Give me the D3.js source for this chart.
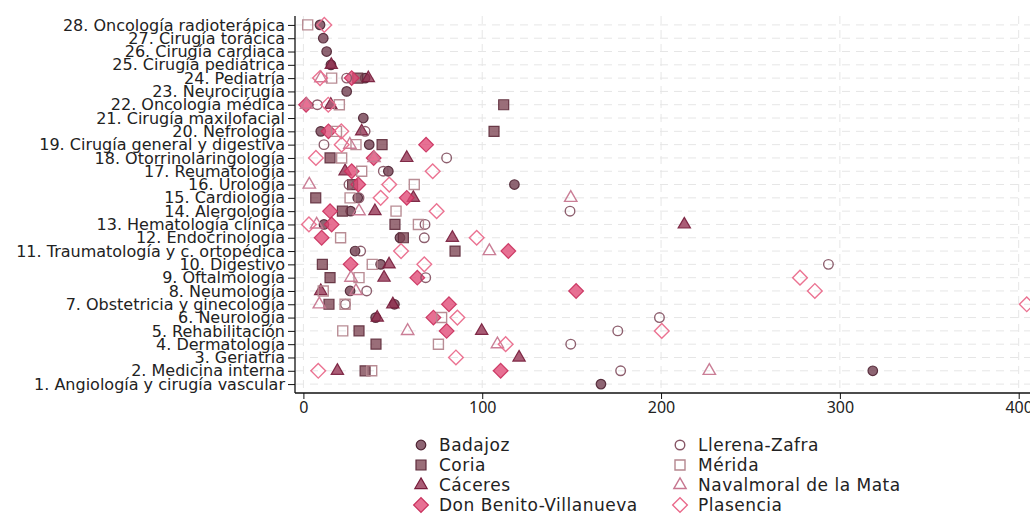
<!DOCTYPE html>
<html>
<head>
<meta charset="utf-8">
<script src="https://cdn.jsdelivr.net/npm/d3@7"></script>
<style>
  html, body { margin: 0; padding: 0; background: #fff; }
  svg { display: block; font-family: "DejaVu Sans", sans-serif; }
</style>
</head>
<body>
<div id="chart"></div>
<script>
// Specialties, numbered 1..28 from bottom to top
const categories = [
  "1. Angiología y cirugía vascular",
  "2. Medicina interna",
  "3. Geriatría",
  "4. Dermatología",
  "5. Rehabilitación",
  "6. Neurología",
  "7. Obstetricia y ginecología",
  "8. Neumología",
  "9. Oftalmología",
  "10. Digestivo",
  "11. Traumatología y c. ortopédica",
  "12. Endocrinología",
  "13. Hematología clínica",
  "14. Alergología",
  "15. Cardiología",
  "16. Urología",
  "17. Reumatología",
  "18. Otorrinolaringología",
  "19. Cirugía general y digestiva",
  "20. Nefrología",
  "21. Cirugía maxilofacial",
  "22. Oncología médica",
  "23. Neurocirugía",
  "24. Pediatría",
  "25. Cirugía pediátrica",
  "26. Cirugía cardiaca",
  "27. Cirugía torácica",
  "28. Oncología radioterápica"
];

// One value per specialty (same order as categories); null = no data
const badajoz = [166.4, 318.4, null, null, null, 40.4, 50.9, 26.1, null, 43.2, 28.9, 54, 11.5, 26.4,
  30.4, 118, 47.5, null, 36.8, 9.7, 33.5, null, 24.2, 34.5, 15.4, 13.0, 11.1, 9.3];
const coria = [null, 34.5, null, 40.6, 31.1, null, 14.3, null, 14.9, 10.6, 84.8, 55.9, 51.2, 21.8,
  6.9, 27.5, null, 14.9, 44, 106.6, null, 112, null, 30.4, null, null, null, null];
const caceres = [null, 19, 120.6, null, 99.7, 41.3, 50, 9.7, 45.1, 47.9, null, 83.3, 213, 40,
  61.5, null, 23.3, 57.8, null, 32.6, null, 15.3, null, 36.3, 15.6, null, null, null];
const donBenito = [null, 110.3, null, null, 80.1, 72.7, 81.4, 152.5, 63.7, 26.4, 114.6, 10.2, 15.8, 14.9,
  57.8, 30.7, 27, 39.3, 68.6, 14, null, 1.5, null, 27, null, null, null, null];
const llerena = [null, 177.4, null, 149.5, 175.8, 199.1, 23.5, 35.4, 68.4, 293.6, 32, 67.6, 68, 149.1,
  31.1, 25.5, 44.7, 80.1, 11.5, 34.5, null, 7.8, null, 24.2, null, null, null, null];
const merida = [null, 38.2, null, 75.5, 22, 77.3, 23.3, 11.1, 31.1, 38.5, null, 20.8, 64.3, 51.8,
  26.1, 62, 32.6, 21.4, 29.4, 18.5, null, 20.1, null, 15.8, null, null, null, 2.4];
const navalmoral = [null, 227, null, 108.5, 58.3, null, 8.9, 29.4, 26.6, null, 104, null, 7.4, 31.1,
  149.5, 3.3, null, 39.5, 26, null, null, 1.8, null, 9.8, null, null, null, null];
const plasencia = [null, 8.3, 85.3, 113.1, 200.4, 86.1, 404.5, 286, 277.7, 67.6, 54.6, 96.9, 3.1, 74.5,
  43.2, 48, 72.3, 7, 21.4, 21.2, null, 13.9, null, 9.3, null, null, null, 11.7];

const xTicks = [0, 100, 200, 300, 400];

// Series definitions: name, values, marker shape, fill / stroke
const series = [
  { name: "Badajoz", values: badajoz, shape: "circle", filled: true, fill: "#6e3a4c", stroke: "#4e2232" },
  { name: "Coria", values: coria, shape: "square", filled: true, fill: "#7d4553", stroke: "#5f2c3c" },
  { name: "Cáceres", values: caceres, shape: "triangle", filled: true, fill: "#92304f", stroke: "#771c3b" },
  { name: "Don Benito-Villanueva", values: donBenito, shape: "diamond", filled: true, fill: "#e04874", stroke: "#c92f5c" },
  { name: "Llerena-Zafra", values: llerena, shape: "circle", filled: false, stroke: "#875666" },
  { name: "Mérida", values: merida, shape: "square", filled: false, stroke: "#b5878f" },
  { name: "Navalmoral de la Mata", values: navalmoral, shape: "triangle", filled: false, stroke: "#c77790" },
  { name: "Plasencia", values: plasencia, shape: "diamond", filled: false, stroke: "#ea6b8c" }
];

const W = 1030, H = 514;
const plot = { left: 295, right: 1030, top: 16, bottom: 393 };
const labelFont = "'DejaVu Sans', sans-serif";

const x = d3.scaleLinear().domain([0, 400]).range([303.4, 1018.7]);
const y = d3.scaleLinear().domain([0.33, 28.67]).range([plot.bottom, plot.top]);

const svg = d3.select("#chart").append("svg")
  .attr("width", W).attr("height", H);

// Marker path generator
const shapeGen = {
  circle: d3.symbol().type(d3.symbolCircle).size(72),
  square: d3.symbol().type(d3.symbolSquare).size(100),
  triangle: d3.symbol().type(d3.symbolTriangle).size(66),
  diamond: d3.symbol().type(d3.symbolSquare).size(108)
};
const shapeRot = { circle: 0, square: 0, triangle: 0, diamond: 45 };

// Grid
const grid = svg.append("g").attr("class", "grid");
grid.selectAll("line.h").data(d3.range(1, 29)).join("line")
  .attr("x1", plot.left + 1).attr("x2", plot.right)
  .attr("y1", d => y(d)).attr("y2", d => y(d))
  .attr("stroke", "#e6e6e6").attr("stroke-width", 1)
  .attr("stroke-dasharray", "8,6");
grid.selectAll("line.v").data(xTicks).join("line")
  .attr("x1", d => x(d)).attr("x2", d => x(d))
  .attr("y1", plot.top).attr("y2", plot.bottom)
  .attr("stroke", "#e6e6e6").attr("stroke-width", 1)
  .attr("stroke-dasharray", "8,6");

// Axes
const xAxis = svg.append("g")
  .attr("transform", `translate(0,${plot.bottom})`)
  .call(d3.axisBottom(x).tickValues(xTicks).tickSize(6).tickPadding(3).tickFormat(d3.format("d")));
xAxis.attr("font-family", null);
xAxis.select(".domain").attr("d", `M${plot.left},0H${plot.right}`).attr("stroke", "#111").attr("stroke-width", 1.3);
xAxis.selectAll(".tick line").attr("stroke", "#111");
xAxis.selectAll(".tick text").attr("font-size", 16).attr("fill", "#222")
  .attr("font-family", "'Noto Sans', sans-serif");

const yAxis = svg.append("g")
  .attr("transform", `translate(${plot.left},0)`)
  .call(d3.axisLeft(y).tickValues(d3.range(1, 29)).tickSize(7).tickPadding(3)
    .tickFormat(d => categories[d - 1]));
yAxis.attr("font-family", null);
yAxis.select(".domain").attr("d", `M0,${plot.top}V${plot.bottom}`).attr("stroke", "#111").attr("stroke-width", 1.3);
yAxis.selectAll(".tick line").attr("stroke", "#111");
yAxis.selectAll(".tick text")
  .attr("font-family", labelFont)
  .attr("font-size", 16)
  .attr("fill", "#222");

// Markers
const marks = svg.append("g");
series.forEach(s => {
  const pts = s.values.map((v, i) => ({ v, cat: i + 1 })).filter(d => d.v != null);
  marks.append("g").selectAll("path").data(pts).join("path")
    .attr("d", shapeGen[s.shape])
    .attr("transform", d => `translate(${x(d.v)},${y(d.cat)}) rotate(${shapeRot[s.shape]})`)
    .attr("fill", s.filled ? s.fill : "none")
    .attr("fill-opacity", s.filled ? 0.78 : 0)
    .attr("stroke", s.stroke)
    .attr("stroke-width", s.filled ? 1.2 : 1.4)
    .attr("stroke-opacity", s.filled ? 0.9 : 0.95);
});

// Legend: two columns of four
const legend = svg.append("g");
series.forEach((s, i) => {
  const col = Math.floor(i / 4), row = i % 4;
  const gx = col === 0 ? 421 : 680;
  const gy = 445 + row * 20;
  legend.append("path")
    .attr("d", shapeGen[s.shape])
    .attr("transform", `translate(${gx},${gy}) rotate(${shapeRot[s.shape]})`)
    .attr("fill", s.filled ? s.fill : "none")
    .attr("fill-opacity", s.filled ? 0.78 : 0)
    .attr("stroke", s.stroke)
    .attr("stroke-width", s.filled ? 1.2 : 1.4);
  legend.append("text")
    .attr("x", gx + 18).attr("y", gy)
    .attr("dy", "0.35em")
    .attr("font-family", labelFont)
    .attr("font-size", 17)
    .attr("letter-spacing", 0.5)
    .attr("fill", "#222")
    .text(s.name);
});
</script>
</body>
</html>
